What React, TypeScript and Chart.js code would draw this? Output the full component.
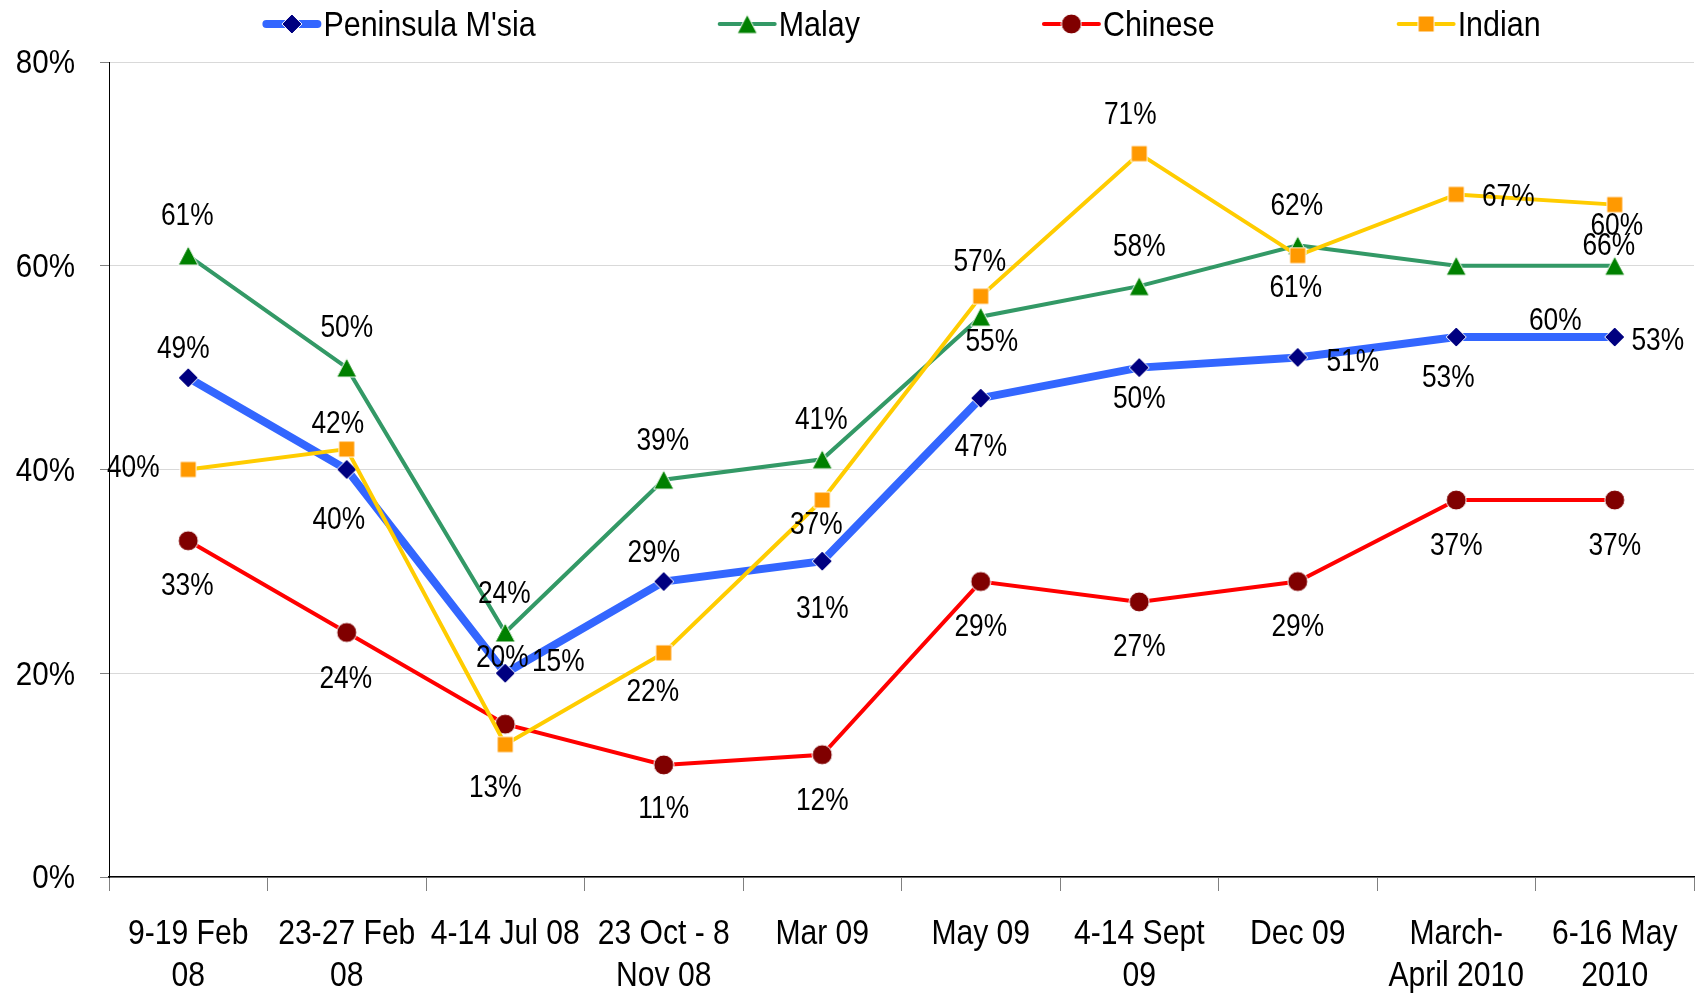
import React, { useEffect, useRef } from "react";
import { Chart, registerables } from "chart.js";

Chart.register(...registerables);

const categories: string[][] = [
  ["9-19 Feb", "08"],
  ["23-27 Feb", "08"],
  ["4-14 Jul 08"],
  ["23 Oct - 8", "Nov 08"],
  ["Mar 09"],
  ["May 09"],
  ["4-14 Sept", "09"],
  ["Dec 09"],
  ["March-", "April 2010"],
  ["6-16 May", "2010"],
];

const peninsula = [49, 40, 20, 29, 31, 47, 50, 51, 53, 53];
const malay = [61, 50, 24, 39, 41, 55, 58, 62, 60, 60];
const chinese = [33, 24, 15, 11, 12, 29, 27, 29, 37, 37];
const indian = [40, 42, 13, 22, 37, 57, 71, 61, 67, 66];

const yTicks = [0, 20, 40, 60, 80];

// label offsets (px) from each point
const peninsulaLabelOff = [[-5, -31], [-8, 48], [-3, -18], [-10, -31], [0, 45], [0, 46], [0, 29], [55, 2], [-8, 38], [43, 1]];
const malayLabelOff = [[-1, -42], [0, -42], [-1, -41], [-1, -41], [-1, -42], [11, 23], [0, -42], [-1, -42], [99, 53], [2, -42]];
const chineseLabelOff = [[-1, 43], [-1, 44], [53, -65], [0, 42], [0, 44], [0, 43], [0, 43], [0, 43], [0, 43], [0, 43]];
const indianLabelOff = [[-55, -4], [-9, -28], [-10, 41], [-11, 37], [-6, 22], [-1, -37], [-9, -41], [-2, 30], [52, 0], [-6, 39]];

const FONT = '"Liberation Sans", Arial, sans-serif';
const NARROW = 0.87;
const BASE_FIX = 3;

type Series = {
  label: string;
  data: number[];
  line: string;
  marker: string;
  width: number;
  style: string;
  offs: number[][];
  order: number;
};

const seriesList: Series[] = [
  { label: "Peninsula M'sia", data: peninsula, line: "#3366FF", marker: "#000080", width: 8, style: "diamond", offs: peninsulaLabelOff, order: 4 },
  { label: "Malay", data: malay, line: "#339966", marker: "#008000", width: 4, style: "triangle", offs: malayLabelOff, order: 3 },
  { label: "Chinese", data: chinese, line: "#FF0000", marker: "#800000", width: 4, style: "circle", offs: chineseLabelOff, order: 2 },
  { label: "Indian", data: indian, line: "#FFCC00", marker: "#FF9900", width: 4, style: "square", offs: indianLabelOff, order: 1 },
];

function makeMarker(style: string, fill: string): HTMLCanvasElement {
  const c = document.createElement("canvas");
  let w = 22, h = 22;
  if (style === "triangle") { w = 22; h = 21; }
  if (style === "square") { w = 18; h = 18; }
  c.width = w;
  c.height = h;
  const ctx = c.getContext("2d") as CanvasRenderingContext2D;
  ctx.fillStyle = fill;
  ctx.strokeStyle = "#FFFFFF";
  ctx.lineWidth = 1;
  ctx.beginPath();
  const cx = w / 2, cy = h / 2;
  if (style === "diamond") {
    ctx.moveTo(cx, 1);
    ctx.lineTo(w - 1, cy);
    ctx.lineTo(cx, h - 1);
    ctx.lineTo(1, cy);
    ctx.closePath();
  } else if (style === "triangle") {
    ctx.moveTo(cx, 1);
    ctx.lineTo(w - 1, h - 1);
    ctx.lineTo(1, h - 1);
    ctx.closePath();
  } else if (style === "circle") {
    ctx.arc(cx, cy, 10, 0, Math.PI * 2);
  } else {
    ctx.rect(1, 1, w - 2, h - 2);
  }
  ctx.fill();
  ctx.stroke();
  return c;
}

function narrowText(ctx: CanvasRenderingContext2D, text: string, x: number, y: number, size: number, align: CanvasTextAlign, sx = NARROW) {
  ctx.save();
  ctx.font = `${size}px ${FONT}`;
  ctx.fillStyle = "#000000";
  ctx.textAlign = align;
  ctx.textBaseline = "middle";
  ctx.translate(x, y + BASE_FIX);
  ctx.scale(sx, 1);
  ctx.fillText(text, 0, 0);
  ctx.restore();
}

function narrowWidth(ctx: CanvasRenderingContext2D, text: string, size: number, sx = NARROW) {
  ctx.save();
  ctx.font = `${size}px ${FONT}`;
  const w = ctx.measureText(text).width * sx;
  ctx.restore();
  return w;
}

const axisLabelPlugin = {
  id: "axisLabels",
  afterDraw(chart: any) {
    const ctx: CanvasRenderingContext2D = chart.ctx;
    const xs = chart.scales.x;
    const ys = chart.scales.y;
    categories.forEach((lines, i) => {
      const x = xs.getPixelForTick(i);
      lines.forEach((ln, k) => {
        narrowText(ctx, ln, x, 931 + k * 42, 35, "center", 0.86);
      });
    });
    yTicks.forEach((v) => {
      narrowText(ctx, `${v}%`, 75, ys.getPixelForValue(v) - 1, 34, "right");
    });
  },
};

const labelPlugin = {
  id: "pctLabels",
  afterDatasetsDraw(chart: any) {
    const ctx: CanvasRenderingContext2D = chart.ctx;
    seriesList.forEach((s, i) => {
      const meta = chart.getDatasetMeta(i);
      meta.data.forEach((pt: any, j: number) => {
        const off = s.offs[j] || [0, -40];
        narrowText(ctx, `${s.data[j]}%`, pt.x + off[0], pt.y + off[1], 31, "center", 0.85);
      });
    });
  },
};

function legendPlugin(markers: HTMLCanvasElement[]) {
  return {
    id: "customLegend",
    afterDraw(chart: any) {
      const ctx: CanvasRenderingContext2D = chart.ctx;
      const area = chart.chartArea;
      const sample = 59;
      const gapText = 2;
      const gapItem = 182;
      const lsx = 0.87;
      const widths = seriesList.map((s) => sample + gapText + narrowWidth(ctx, s.label, 35, lsx));
      const total = widths.reduce((a, b) => a + b, 0) + gapItem * (seriesList.length - 1);
      let x = (area.left + area.right) / 2 - total / 2;
      const y = 24;
      seriesList.forEach((s, i) => {
        ctx.save();
        ctx.strokeStyle = s.line;
        ctx.lineWidth = s.width;
        ctx.lineCap = "round";
        ctx.beginPath();
        ctx.moveTo(x + s.width / 2, y);
        ctx.lineTo(x + sample - s.width / 2, y);
        ctx.stroke();
        const m = markers[i];
        ctx.drawImage(m, x + sample / 2 - m.width / 2, y - m.height / 2);
        ctx.restore();
        narrowText(ctx, s.label, x + sample + gapText, y - 1, 35, "left", lsx);
        x += widths[i] + gapItem;
      });
    },
  };
}

export default function App() {
  const ref = useRef<HTMLCanvasElement>(null);
  useEffect(() => {
    if (!ref.current) return;
    const markers = seriesList.map((s) => makeMarker(s.style, s.marker));
    const chart = new Chart(ref.current, {
      type: "line",
      data: {
        labels: categories.map((c) => c.join(" ")),
        datasets: seriesList.map((s, i) => ({
          label: s.label,
          data: s.data,
          borderColor: s.line,
          backgroundColor: s.marker,
          borderWidth: s.width,
          pointStyle: markers[i] as any,
          pointRadius: 10,
          tension: 0,
          fill: false,
          order: s.order,
        })),
      },
      options: {
        animation: false,
        responsive: false,
        layout: { autoPadding: false, padding: { top: 62, right: 1, left: 0, bottom: 0 } },
        plugins: { legend: { display: false }, tooltip: { enabled: false } },
        scales: {
          x: {
            offset: true,
            afterFit(scale: any) {
              scale.height = 117;
            },
            grid: {
              display: true,
              offset: true,
              drawOnChartArea: false,
              drawTicks: true,
              tickLength: 14,
              tickColor: "#808080",
            },
            border: { display: true, color: "#000000", width: 1.5 },
            ticks: { display: false },
          },
          y: {
            min: 0,
            max: 80,
            afterFit(scale: any) {
              scale.width = 109;
            },
            afterBuildTicks(scale: any) {
              scale.ticks = yTicks.map((v) => ({ value: v }));
            },
            grid: {
              color: "#D9D9D9",
              lineWidth: 1,
              tickLength: 9,
              tickColor: "#808080",
            },
            border: { display: true, color: "#000000", width: 1 },
            ticks: { display: false },
          },
        },
      },
      plugins: [labelPlugin, axisLabelPlugin, legendPlugin(markers)],
    });
    return () => chart.destroy();
  }, []);
  return (
    <div style={{ position: "fixed", left: 0, top: 0, width: 1695, height: 994, background: "#FFFFFF" }}>
      <canvas ref={ref} width={1695} height={994} style={{ width: 1695, height: 994 }} />
    </div>
  );
}
